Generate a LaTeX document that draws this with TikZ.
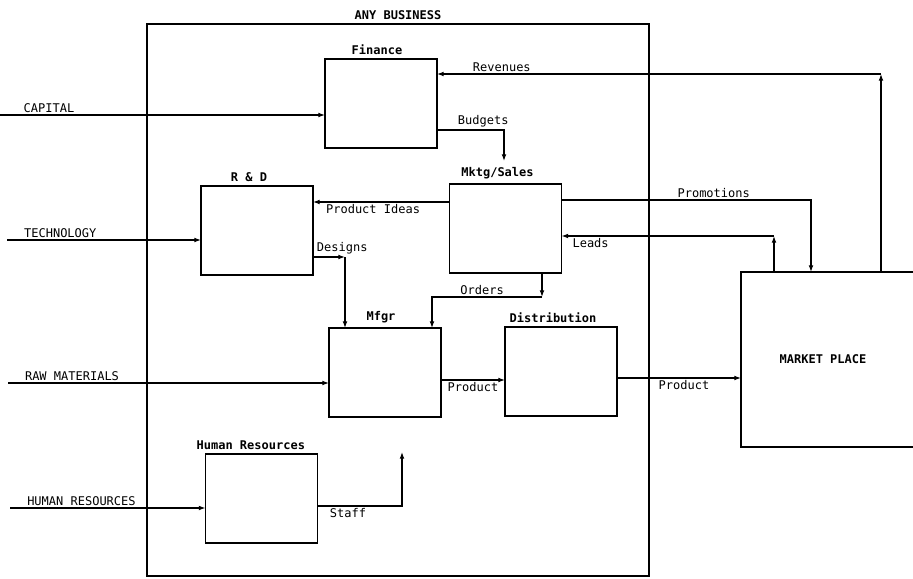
\documentclass[tikz,border=0pt]{standalone}
\usepackage{fontspec}
\setmonofont{DejaVu Sans Mono}
\usetikzlibrary{arrows.meta, positioning}

\tikzset{
  every node/.style={font=\ttfamily\fontsize{9}{10}\selectfont},
  head/.style={font=\ttfamily\bfseries\fontsize{9}{10}\selectfont},
  unit/.style={draw, line width=1.1pt, minimum width=84pt, minimum height=66.75pt, inner sep=0pt, outer sep=0pt},
  frame/.style={draw, line width=1.5pt, inner sep=0pt, outer sep=0pt},
  flow/.style={line width=0.9pt, -{Latex[length=5pt,width=3.6pt]}},
  tag/.style={inner sep=1.5pt},
}

\begin{document}
\begin{tikzpicture}[x=0.75pt, y=-0.75pt]
  \useasboundingbox (0,0) rectangle (913,578);
  \clip (0,0) rectangle (913,578);

  % the business and its market
  \node[frame, minimum width=376.5pt, minimum height=414pt, label={[head]above:ANY BUSINESS}] (biz) at (398,300) {};
  \node[frame, minimum width=141.75pt, minimum height=131.25pt, label={[head, xshift=-9.4pt]center:MARKET PLACE}] (market) at (835.5,359.5) {};

  % functions
  \node[unit, label={[head, xshift=-3pt]above:Finance}] (fin) at (381,103.5) {};
  \node[unit, label={[head, xshift=-6pt]above:R \& D}] (rd) at (257,230.5) {};
  \node[unit, label={[head, xshift=-6pt]above:Mktg/Sales}] (mktg) at (505.5,228.5) {};
  \node[unit, label={[head, xshift=-3pt]above:Mfgr}] (mfgr) at (385,372.5) {};
  \node[unit, label={[head, xshift=-6pt]above:Distribution}] (dist) at (561,371.5) {};
  \node[unit, label={[head, xshift=-8pt]above:Human Resources}] (hr) at (261.5,498.5) {};

  % free ends and bends
  \coordinate (capin) at (0,115);
  \coordinate (techin) at (7,240);
  \coordinate (rawin) at (8,383);
  \coordinate (hrin) at (10,508);
  \coordinate (revup) at (881,74);
  \coordinate (budget) at (504,130);
  \coordinate (budgetend) at (504,161);
  \coordinate (dsgn) at (345,257);
  \coordinate (ordr) at (542,297);
  \coordinate (ordl) at (432,297);
  \coordinate (promo) at (811,200);
  \coordinate (lead) at (774,236);
  \coordinate (staff) at (402,506);
  \coordinate (staffend) at (402,452);

  % inputs
  \draw[flow] (capin) -- (capin -| fin.west) node[tag, pos=0.065, above right] {CAPITAL};
  \draw[flow] (techin) -- (techin -| rd.west) node[tag, pos=0.075, above right] {TECHNOLOGY};
  \draw[flow] (rawin) -- (rawin -| mfgr.west) node[tag, pos=0.045, above right] {RAW MATERIALS};
  \draw[flow] (hrin) -- (hrin -| hr.west) node[tag, pos=0.075, above right] {HUMAN RESOURCES};

  % inside the business
  \draw[flow] (fin.east |- budget) -- (budget) node[tag, pos=0.69, above] {Budgets} -- (budgetend);
  \draw[flow] (mktg.west |- 0,202) -- (rd.east |- 0,202) node[tag, pos=0.56, below] {Product Ideas};
  \draw[flow] (rd.east |- dsgn) -- (dsgn) node[tag, pos=0, above right, xshift=1pt] {Designs};
  \draw[flow] (dsgn) -- (dsgn |- mfgr.north);
  \draw[flow] (ordr |- mktg.south) -- (ordr);
  \draw[flow] (ordr) -- (ordl) node[tag, pos=0.545, above] {Orders} -- (ordl |- mfgr.north);
  \draw[flow] (mfgr.east |- 0,380) -- (dist.west |- 0,380) node[tag, midway, below] {Product};
  \draw[flow] (hr.east |- staff) -- (staff) node[tag, pos=0.36, below] {Staff} -- (staffend);

  % to and from the market
  \draw[flow] (dist.east |- 0,378) -- (market.west |- 0,378) node[tag, pos=0.54, below] {Product};
  \draw[flow] (mktg.east |- promo) -- (promo) node[tag, pos=0.61, above] {Promotions} -- (promo |- market.north);
  \draw[flow] (lead |- market.north) -- (lead);
  \draw[flow] (lead) -- (lead -| mktg.east) node[tag, pos=0.863, below] {Leads};
  \draw[flow] (market.north -| revup) -- (revup);
  \draw[flow] (revup) -- (revup -| fin.east) node[tag, pos=0.854, above] {Revenues};
\end{tikzpicture}
\end{document}
